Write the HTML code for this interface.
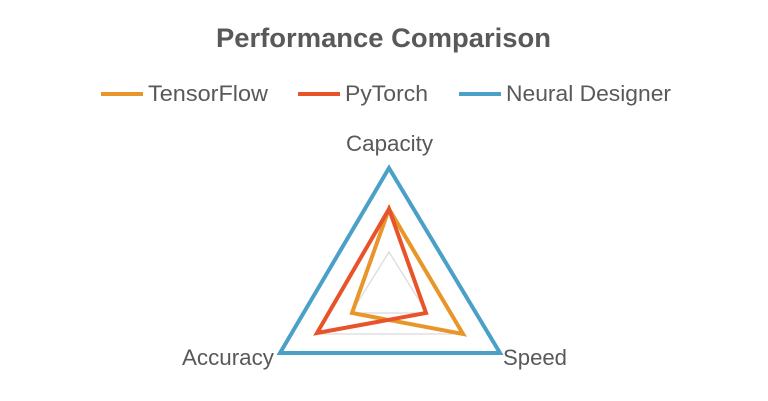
<!DOCTYPE html>
<html><head><style>
body{margin:0;background:#fff;}
svg{display:block;font-family:"Liberation Sans",sans-serif;}
</style></head><body>
<svg width="768" height="401" viewBox="0 0 768 401">
<text x="216" y="47" font-size="27" font-weight="bold" fill="#595959" textLength="335" lengthAdjust="spacingAndGlyphs">Performance Comparison</text>
<g font-size="22" fill="#595959">
<line x1="101" y1="94" x2="143" y2="94" stroke="#E8962A" stroke-width="4"/>
<text x="148" y="101" textLength="120" lengthAdjust="spacingAndGlyphs">TensorFlow</text>
<line x1="298" y1="94" x2="340" y2="94" stroke="#E8532A" stroke-width="4"/>
<text x="345" y="101" textLength="83" lengthAdjust="spacingAndGlyphs">PyTorch</text>
<line x1="459" y1="94" x2="501" y2="94" stroke="#4BA0C8" stroke-width="4"/>
<text x="506" y="101" textLength="165" lengthAdjust="spacingAndGlyphs">Neural Designer</text>
<text x="346" y="151" textLength="87" lengthAdjust="spacingAndGlyphs">Capacity</text>
<text x="182" y="365" textLength="92" lengthAdjust="spacingAndGlyphs">Accuracy</text>
<text x="503" y="365" textLength="64" lengthAdjust="spacingAndGlyphs">Speed</text>
</g>
<polygon points="389,252 351,313 427,313" fill="none" stroke="#d9d9d9" stroke-width="1.2"/>
<polygon points="389,209 316,334 462,334" fill="none" stroke="#d9d9d9" stroke-width="1.2"/>
<polygon points="389,209 352,313 463,334" fill="none" stroke="#E8962A" stroke-width="4"/>
<polygon points="389,209 317,333 426,313" fill="none" stroke="#E8532A" stroke-width="4"/>
<polygon points="389,168 280,353 500,353" fill="none" stroke="#4BA0C8" stroke-width="4"/>
</svg>
</body></html>
